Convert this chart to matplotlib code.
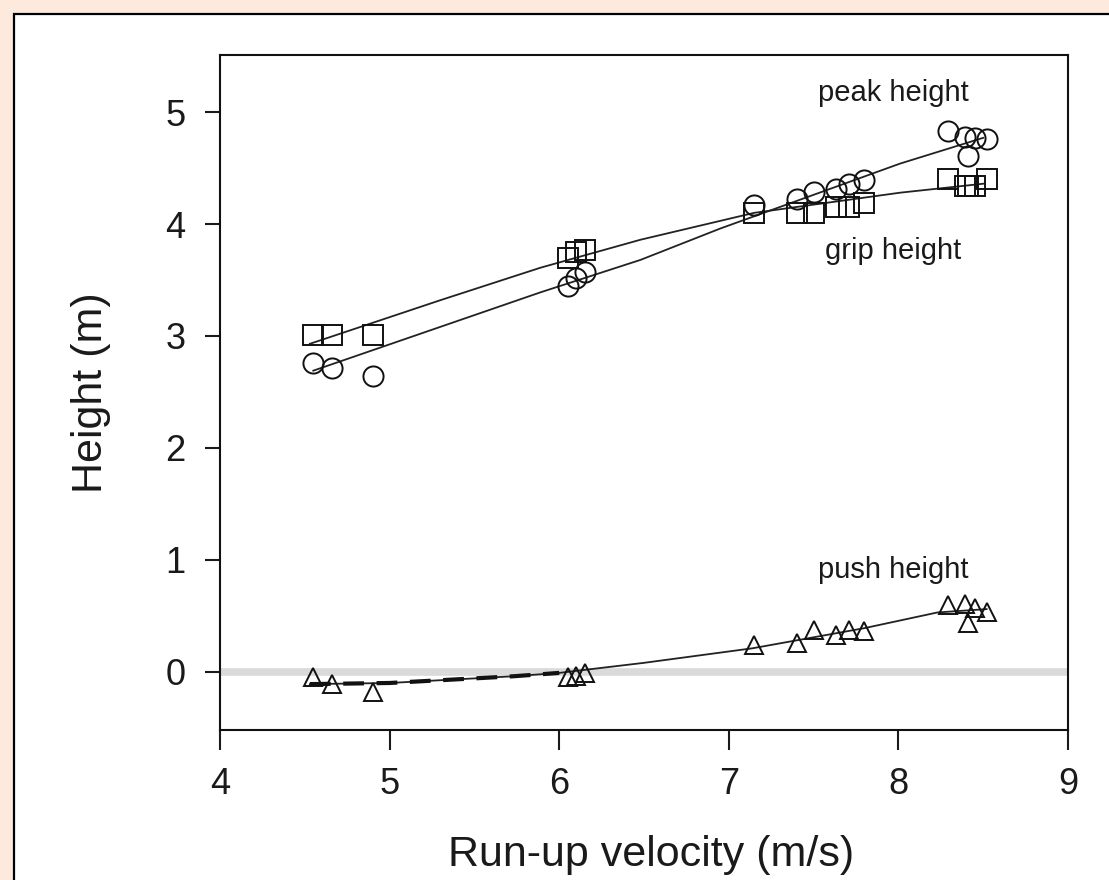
import matplotlib.pyplot as plt
from matplotlib.patches import Rectangle

plt.rcParams['font.family'] = ['Liberation Sans', 'DejaVu Sans']

# run-up velocity of each vault (m/s)
velocity = [4.55, 4.66, 4.90, 6.05, 6.10, 6.15, 7.15, 7.40, 7.50, 7.63, 7.71, 7.80,
            8.29, 8.39, 8.41, 8.45, 8.52]
peak = [2.76, 2.71, 2.64, 3.45, 3.52, 3.57, 4.17, 4.22, 4.29, 4.31, 4.36, 4.39,
        4.83, 4.78, 4.61, 4.77, 4.76]
grip = [3.01, 3.01, 3.01, 3.70, 3.75, 3.77, 4.10, 4.10, 4.10, 4.15, 4.15, 4.19,
        4.40, 4.34, 4.34, 4.34, 4.40]
push = [-0.05, -0.11, -0.18, -0.05, -0.04, -0.01, 0.24, 0.26, 0.37, 0.33, 0.37, 0.36,
        0.60, 0.61, 0.44, 0.57, 0.53]

# trend lines
peak_fit_v = [4.55, 5.89, 6.48, 6.95, 8.01, 8.50]
peak_fit = [2.69, 3.39, 3.68, 3.96, 4.54, 4.77]
grip_fit_v = [4.53, 5.30, 5.89, 6.48, 7.15, 8.01, 8.50]
grip_fit = [2.93, 3.32, 3.61, 3.86, 4.10, 4.28, 4.36]
push_fit_v = [4.53, 5.00, 5.73, 6.00, 6.50, 7.14, 7.80, 8.23, 8.52]
push_fit = [-0.11, -0.10, -0.04, -0.01, 0.08, 0.21, 0.39, 0.53, 0.56]

fig = plt.figure(figsize=(11.09, 8.8), dpi=100, facecolor='#fdeadd')
fig.patches.append(Rectangle((14 / 1109, -0.05), 1.1, 1.05 - 14 / 880,
                             transform=fig.transFigure, facecolor='white',
                             edgecolor='black', lw=1.6, zorder=-10))

ax = fig.add_axes([220 / 1109, 1 - 730 / 880, 848 / 1109, 675 / 880])
ax.set_zorder(1)
ax.set_facecolor('white')

ax.axhline(0, color='#dadada', lw=5.5, zorder=0)

line_kw = dict(color='#222222', lw=1.3, zorder=2)
ax.plot(peak_fit_v, peak_fit, **line_kw)
ax.plot(grip_fit_v, grip_fit, **line_kw)
ax.plot(push_fit_v, push_fit, **line_kw)
# heavy dashed stretch of the push curve
ax.plot(push_fit_v[:4], push_fit[:4], color='#111111', lw=3, ls=(0, (5, 3)), zorder=2)

mk = dict(ls='none', mfc='none', mec='#111111', mew=1.4, zorder=3)
ax.plot(velocity, peak, marker='o', ms=14.5, **mk)
ax.plot(velocity, grip, marker='s', ms=14.5, **mk)
ax.plot(velocity, push, marker='^', ms=13, **mk)

txt = dict(ha='center', va='center', fontsize=21, color='#1a1a1a')
ax.text(7.97, 5.17, 'peak height', **txt)
ax.text(7.97, 3.76, 'grip height', **txt)
ax.text(7.97, 0.91, 'push height', **txt)

ax.set_xlim(4, 9)
ax.set_ylim(-0.52, 5.51)
ax.set_xticks([4, 5, 6, 7, 8, 9])
ax.set_yticks([0, 1, 2, 3, 4, 5])

for s in ax.spines.values():
    s.set_linewidth(1.5)
    s.set_color('#111111')

ax.tick_params(axis='x', direction='out', length=14.5, width=1.5, pad=12,
               labelsize=26, colors='#1a1a1a')
ax.tick_params(axis='y', direction='out', length=11, width=1.5, pad=14,
               labelsize=26, colors='#1a1a1a')

ax.set_xlabel('Run-up velocity (m/s)', fontsize=31, color='#1a1a1a')
ax.set_ylabel('Height (m)', fontsize=31, color='#1a1a1a')
ax.xaxis.set_label_coords(0.508, -0.156)
ax.yaxis.set_label_coords(-0.128, 0.5)

fig.savefig('out.png', dpi=100, facecolor=fig.get_facecolor())
